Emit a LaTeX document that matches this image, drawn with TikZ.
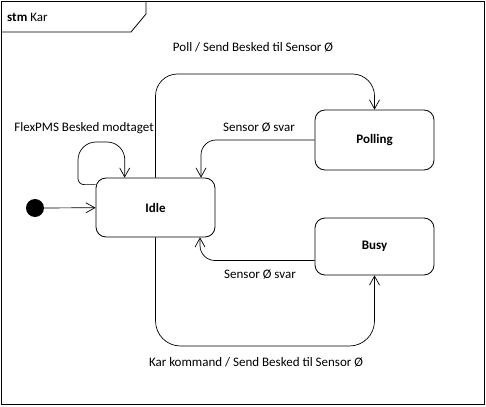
\documentclass[tikz,border=0pt]{standalone}
\usepackage{fontspec}
\setmainfont{Carlito}
\usetikzlibrary{arrows.meta,calc}
\begin{document}
\begin{tikzpicture}[x=1pt,y=-1pt,
  state/.style={draw, rounded corners=10pt, minimum width=119pt, inner sep=0pt, font=\fontsize{13}{15}\selectfont\bfseries, line width=0.8pt},
  conn/.style={line width=0.7pt, -{Straight Barb[length=9pt,width=10pt]}},
  lbl/.style={font=\fontsize{13}{15}\selectfont, inner sep=0pt}]
\useasboundingbox (0,0) rectangle (486,406);
\draw[line width=0.8pt] (1,1) rectangle (484,404);
\draw[line width=0.8pt] (1,32) -- (131,32) -- (146,14) -- (146,1);
\node[anchor=west, font=\fontsize{13}{15}\selectfont, inner sep=0pt] (title) at (7,17) {\textbf{stm} Kar};

\node[state, minimum height=59pt] (idle) at (155.5,207.5) {Idle};
\node[state, minimum height=60pt] (polling) at (374.5,140) {Polling};
\node[state, minimum height=57pt] (busy) at (374.5,246.5) {Busy};
\node[circle, fill=black, minimum size=18pt, inner sep=0pt] (init) at (35,208) {};

\coordinate (toprow) at (0,74);
\coordinate (botrow) at (0,346);
\coordinate (loopL) at (78,142);
\coordinate (loopR) at (125,142);
\coordinate (loopStart) at ([yshift=-7pt]idle.north west);
\coordinate (loopEnd) at ([xshift=29pt]idle.north west);
\coordinate (ps) at ([xshift=45.5pt]idle.north);
\coordinate (bs) at ([xshift=44.5pt]idle.south);
\coordinate (bw) at ([yshift=-14pt]busy.west);

\draw[conn] (init) -- (idle);
\draw[conn, rounded corners=6pt] (loopStart) -- (loopL |- loopStart) [rounded corners=18pt] -- (loopL) -- (loopR) -- (loopEnd);
\draw[conn, rounded corners=22pt] (idle.north) -- (idle.north |- toprow) -- (polling.north |- toprow) -- (polling.north);
\draw[conn, rounded corners=15pt] (polling.west) -- (ps |- polling.west) -- (ps);
\draw[conn, rounded corners=15pt] (bw) -- (bs |- bw) -- (bs);
\draw[conn, rounded corners=25pt] (idle.south) -- (idle.south |- botrow) -- (busy.south |- botrow) -- (busy.south);

\node[lbl] (l1) at (84,128) {FlexPMS Besked modtaget};
\node[lbl] (l2) at (253,47) {Poll / Send Besked til Sensor Ø};
\node[lbl] (l3) at (259,127) {Sensor Ø svar};
\node[lbl] (l4) at (260,274) {Sensor Ø svar};
\node[lbl] (l5) at (256,362) {Kar kommand / Send Besked til Sensor Ø};
\end{tikzpicture}
\end{document}
